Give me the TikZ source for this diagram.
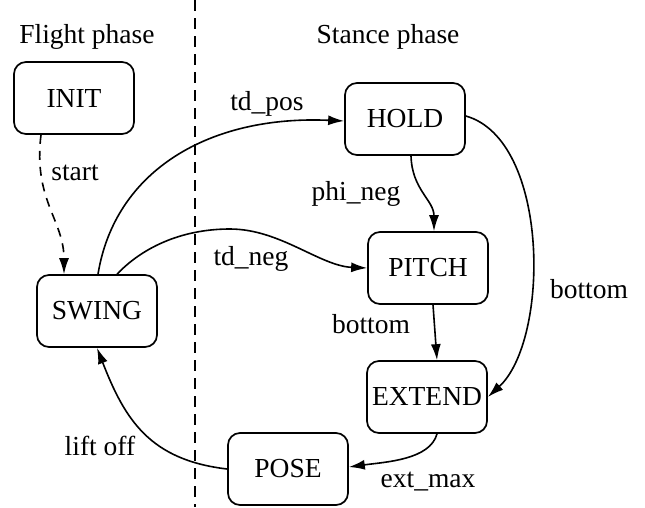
\documentclass[tikz,border=0pt]{standalone}
\usepackage{fontspec}
\setmainfont{Liberation Serif}
\usetikzlibrary{arrows.meta}
\begin{document}
\begin{tikzpicture}[x=1pt,y=-1pt,
  every node/.style={font=\fontsize{27.5}{33}\selectfont},
  state/.style={draw,line width=1.7pt,rounded corners=12pt,minimum width=120pt,minimum height=72pt,inner sep=0pt},
  lbl/.style={anchor=base,inner sep=0pt},
  edge/.style={line width=1.6pt,-{Latex[length=16pt,width=10pt]}},
  divider/.style={line width=1.6pt,dash pattern=on 11pt off 7pt}]
\useasboundingbox (0,0) rectangle (645,507);
% divider
\coordinate (dtop) at (195,0);
\coordinate (dbot) at (195,507);
\draw[divider] (dtop) -- (dbot);
% headings
\node[lbl] (hflight) at (87,43) {Flight phase};
\node[lbl] (hstance) at (388,43) {Stance phase};
% states
\node[state] (init) at (74,98) {INIT};
\node[state] (swing) at (97,311) {SWING};
\node[state] (hold) at (405,119) {HOLD};
\node[state] (pitch) at (428,268) {PITCH};
\node[state] (extend) at (427,397) {EXTEND};
\node[state] (pose) at (288,469) {POSE};
% edges
\draw[edge,dash pattern=on 9pt off 7pt] ([xshift=-33pt]init.south) .. controls (33,200) and (64,220) .. ([xshift=-33pt]swing.north);
\draw[edge] ([xshift=1pt]swing.north) .. controls (115,170) and (210,115) .. ([yshift=-2pt]hold.west);
\draw[edge] ([xshift=20pt]swing.north) .. controls (145,245) and (185,229) .. (230,229) .. controls (280,229) and (320,266) .. (pitch.west);
\draw[edge] ([xshift=6pt]hold.south) .. controls (412,190) and (434,200) .. ([xshift=6pt]pitch.north);
\draw[edge] ([yshift=3pt]hold.east) .. controls (550,140) and (550,340) .. (extend.east);
\draw[edge] ([xshift=5pt]pitch.south) -- ([xshift=10pt]extend.north);
\draw[edge] ([xshift=10pt]extend.south) .. controls (430,460) and (385,462) .. ([yshift=2pt]pose.east);
\draw[edge] (pose.west) .. controls (150,460) and (125,420) .. (swing.south);
% labels
\node[lbl] (lstart) at (75,180) {start};
\node[lbl] (ltdpos) at (267,110) {td\_pos};
\node[lbl] (ltdneg) at (251,265) {td\_neg};
\node[lbl] (lphi) at (356,200) {phi\_neg};
\node[lbl] (lbot1) at (589,298) {bottom};
\node[lbl] (lbot2) at (371,333) {bottom};
\node[lbl] (lext) at (428,487) {ext\_max};
\node[lbl] (llift) at (100,455) {lift off};
\end{tikzpicture}
\end{document}
